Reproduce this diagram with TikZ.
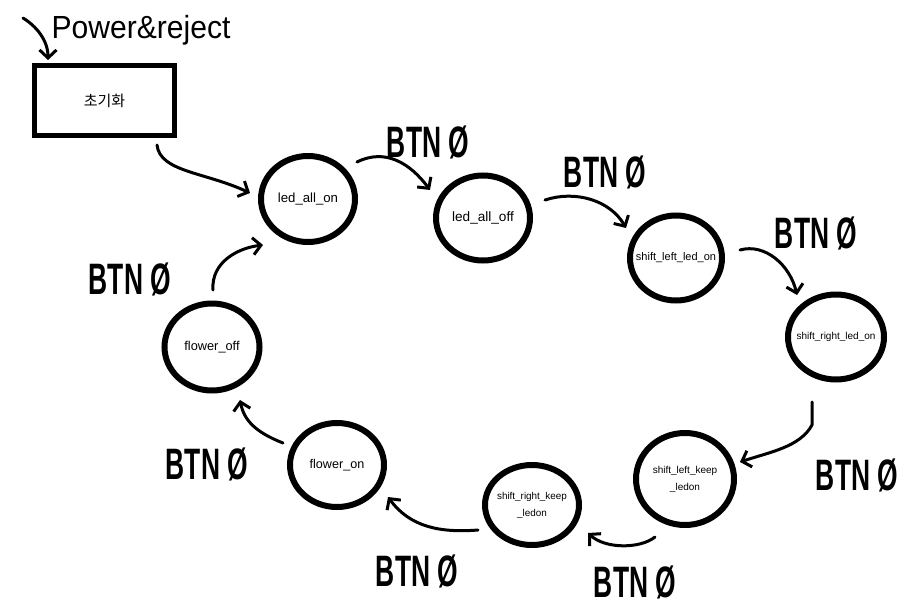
\documentclass[tikz,border=0pt]{standalone}
\usepackage{fontspec}
\usepackage{graphicx}
\setmainfont{Liberation Sans}
\newfontfamily\krfont{Noto Sans CJK KR}
\usetikzlibrary{shapes.geometric,arrows.meta}
\newcommand\handtxt[2]{\scalebox{#1}[1]{#2}}
\newcommand\zw[1]{\makebox[0pt]{#1}}
\begin{document}
\begin{tikzpicture}[x=1pt,y=-1pt,
  state/.style={draw,ellipse,line width=6pt,inner sep=0pt,align=center},
  initbox/.style={draw,rectangle,line width=5pt,minimum width=140pt,minimum height=70pt,inner sep=0pt},
  conn/.style={line width=3pt,line cap=round,line join=round,-{Straight Barb[length=8pt,width=17pt,line width=3pt]}},
  btn/.style={inner sep=0pt,font=\fontsize{44}{44}\selectfont\bfseries},
  hand/.style={inner sep=0pt,font=\fontsize{32}{32}\selectfont}]
\useasboundingbox[fill=white] (0,0) rectangle (919,616);

% initial box
\node[initbox,font=\krfont\fontsize{15}{15}\selectfont] (init) at (104.5,100.5) {초기화};

% states
\node[state,minimum width=94pt,minimum height=86pt,font=\fontsize{13.2}{14}\selectfont] (a) at (308,199) {\zw{led\_all\_on}};
\node[state,minimum width=94pt,minimum height=85pt,font=\fontsize{13.6}{14}\selectfont] (b) at (483,218) {\zw{led\_all\_off}};
\node[state,minimum width=92pt,minimum height=85pt,font=\fontsize{11}{12}\selectfont] (c) at (676,258) {\zw{shift\_left\_led\_on}};
\node[state,minimum width=96pt,minimum height=85pt,font=\fontsize{10}{12}\selectfont] (d) at (836,337) {\zw{shift\_right\_led\_on}};
\node[state,minimum width=98pt,minimum height=92pt,font=\fontsize{10}{17}\selectfont] (e) at (685,479) {\zw{shift\_left\_keep}\\\zw{\_ledon}};
\node[state,minimum width=94pt,minimum height=80pt,font=\fontsize{9.9}{17}\selectfont] (f) at (532,505) {\zw{shift\_right\_keep}\\\zw{\_ledon}};
\node[state,minimum width=94pt,minimum height=84pt,font=\fontsize{12.6}{13}\selectfont] (g) at (337,465) {\zw{flower\_on}};
\node[state,minimum width=95pt,minimum height=87pt,font=\fontsize{12.8}{13}\selectfont] (h) at (212,347) {\zw{flower\_off}};

% labels
\node[hand] (pw) at (141,30) {\handtxt{0.94}{Power\&reject}};
\node[btn] (l1) at (428,142) {\handtxt{0.6}{BTN Ø}};
\node[btn] (l2) at (605,172) {\handtxt{0.6}{BTN Ø}};
\node[btn] (l3) at (816,233) {\handtxt{0.6}{BTN Ø}};
\node[btn] (l4) at (857,475) {\handtxt{0.6}{BTN Ø}};
\node[btn] (l5) at (635,582) {\handtxt{0.6}{BTN Ø}};
\node[btn] (l6) at (417,571) {\handtxt{0.6}{BTN Ø}};
\node[btn] (l7) at (207,464) {\handtxt{0.6}{BTN Ø}};
\node[btn] (l8) at (130,279) {\handtxt{0.6}{BTN Ø}};

% connector end points
\coordinate (p0) at (23,18);   \coordinate (p1) at (48,60);
\coordinate (i0) at (157,145); \coordinate (i1) at (250,193);
\coordinate (a0) at (357,162); \coordinate (b1) at (430,190);
\coordinate (b0) at (545,200); \coordinate (c1) at (626,228);
\coordinate (c0) at (740,250); \coordinate (d1) at (797,295);
\coordinate (d0) at (812,402); \coordinate (e1) at (740,462);
\coordinate (e0) at (655,537); \coordinate (f1) at (588,533);
\coordinate (f0) at (478,530); \coordinate (g1) at (388,497);
\coordinate (g0) at (283,443); \coordinate (h1) at (240,400);
\coordinate (h0) at (213,290); \coordinate (a1) at (263,245);

% connectors
\draw[conn] (p0) .. controls (36,26) and (48,40) .. (p1);
\draw[conn] (i0) .. controls (160,172) and (205,172) .. (i1);
\draw[conn] (a0) .. controls (385,148) and (410,163) .. (b1);
\draw[conn] (b0) .. controls (575,190) and (610,200) .. (c1);
\draw[conn] (c0) .. controls (765,243) and (790,265) .. (d1);
\draw[conn] (d0) -- (812,425) .. controls (800,447) and (770,452) .. (e1);
\draw[conn] (e0) .. controls (640,549) and (605,549) .. (f1);
\draw[conn] (f0) .. controls (440,533) and (410,527) .. (g1);
\draw[conn] (g0) .. controls (255,432) and (244,420) .. (h1);
\draw[conn] (h0) .. controls (211,262) and (238,248) .. (a1);
\end{tikzpicture}
\end{document}
